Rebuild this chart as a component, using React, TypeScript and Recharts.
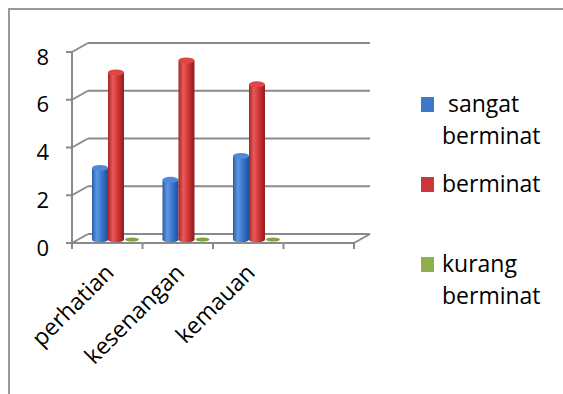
import React from "react";
import { Bar, BarChart, CartesianGrid, Legend, XAxis, YAxis } from "recharts";

// ─── Data ────────────────────────────────────────────────────

const categories = ["perhatian", "kesenangan", "kemauan", ""];
const sangatBerminat = [3, 2.5, 3.5, null];
const berminat = [7, 7.5, 6.5, null];
const kurangBerminat = [0, 0, 0, null];
const yTicks = [0, 2, 4, 6, 8];
const seriesNames = [" sangat berminat", "berminat", "kurang berminat"];

const data = categories.map((name, i) => ({
  name,
  sangat: sangatBerminat[i],
  berminat: berminat[i],
  kurang: kurangBerminat[i],
}));

// ─── Layout ──────────────────────────────────────────────────

const FONT = "'Open Sans', sans-serif";
const GRID = "#8a8a8a";
const CHART_W = 553;
const CHART_H = 384;
const PLOT_LEFT = 78;
const PLOT_TOP = 33;
const PLOT_RIGHT = 360;
const PLOT_BOTTOM = 224;
const DEPTH_X = 16; // front plane sits this far left of the back wall
const DEPTH_Y = 9; // ...and this far below it

// ─── Axis ticks (3D floor + wall edges) ──────────────────────

function YTick({ y, payload }: any) {
  const bx = PLOT_LEFT;
  const fx = bx - DEPTH_X;
  const fy = y + DEPTH_Y;
  return (
    <g>
      <line x1={fx - 6} y1={fy} x2={fx} y2={fy} stroke={GRID} strokeWidth={2} />
      <line x1={fx} y1={fy} x2={bx} y2={y} stroke={GRID} strokeWidth={2} />
      {payload.value === yTicks[yTicks.length - 1] && (
        <line x1={fx} y1={fy} x2={fx} y2={PLOT_BOTTOM + DEPTH_Y} stroke={GRID} strokeWidth={2} />
      )}
      <text
        x={fx - 23}
        y={fy + 5}
        dy="0.35em"
        textAnchor="end"
        fontFamily={FONT}
        fontSize={22}
        fill="#000"
      >
        {payload.value}
      </text>
    </g>
  );
}

function XTick({ x, payload, index }: any) {
  const band = (PLOT_RIGHT - PLOT_LEFT) / categories.length;
  const fx = x - DEPTH_X;
  const fy = PLOT_BOTTOM + DEPTH_Y;
  const last = index === categories.length - 1;
  return (
    <g>
      <line x1={fx - band / 2} y1={fy} x2={fx + band / 2} y2={fy} stroke={GRID} strokeWidth={2} />
      <line x1={fx - band / 2} y1={fy} x2={fx - band / 2} y2={fy + 6} stroke={GRID} strokeWidth={2} />
      {last && (
        <>
          <line x1={fx + band / 2} y1={fy} x2={fx + band / 2} y2={fy + 6} stroke={GRID} strokeWidth={2} />
          <line
            x1={fx + band / 2}
            y1={fy}
            x2={x + band / 2}
            y2={PLOT_BOTTOM}
            stroke={GRID}
            strokeWidth={2}
          />
        </>
      )}
      {payload.value && (
        <text
          x={fx + 8}
          y={fy + 31}
          textAnchor="end"
          transform={`rotate(-45 ${fx + 8} ${fy + 31})`}
          fontFamily={FONT}
          fontSize={23}
          fill="#000"
        >
          {payload.value}
        </text>
      )}
    </g>
  );
}

// ─── Cylinder bar ────────────────────────────────────────────

function Cylinder({ x, y, width, height, payload, dataKey, grad, cap, flat }: any) {
  if (payload == null || payload[dataKey] == null) return <g />;
  const bx = x - DEPTH_X / 2;
  const by = y + DEPTH_Y / 2 + 1;
  const cx = bx + width / 2;
  const rx = width / 2;
  const ry = 3;
  if (!height) {
    return <ellipse cx={cx} cy={by} rx={rx - 1} ry={2} fill={flat} />;
  }
  return (
    <g>
      <ellipse cx={cx} cy={by + height} rx={rx} ry={ry} fill={grad} />
      <rect x={bx} y={by} width={width} height={height} fill={grad} />
      <ellipse cx={cx} cy={by} rx={rx} ry={ry} fill={cap} />
    </g>
  );
}

// ─── Legend ──────────────────────────────────────────────────

const legendColors = ["#3c78c8", "#c9373a", "#8db04a"];

function LegendContent({ payload }: any) {
  return (
    <div style={{ fontFamily: FONT, fontSize: 23, lineHeight: "32px", color: "#000" }}>
      {(payload || []).map((item: any, i: number) => (
        <div key={i} style={{ display: "flex", alignItems: "flex-start", height: 80 }}>
          <span
            style={{
              width: 13,
              height: 15,
              marginTop: 10,
              background: legendColors[i],
              flex: "none",
            }}
          />
          <span style={{ marginLeft: 8, whiteSpace: "pre-wrap", width: 115 }}>{item.value}</span>
        </div>
      ))}
    </div>
  );
}

// ─── App ─────────────────────────────────────────────────────

export default function App() {
  return (
    <div
      style={{
        position: "absolute",
        left: 8,
        top: 8,
        width: 555,
        height: 386,
        boxSizing: "border-box",
        borderTop: "2px solid #9a9a9a",
        borderLeft: "2px solid #9a9a9a",
        background: "#fff",
      }}
    >
      <BarChart
        width={CHART_W}
        height={CHART_H}
        data={data}
        margin={{ top: PLOT_TOP, right: CHART_W - PLOT_RIGHT, left: 0, bottom: 0 }}
        barGap={0}
        barCategoryGap="17%"
      >
        <defs>
          <linearGradient id="gBlue" x1="0" y1="0" x2="1" y2="0">
            <stop offset="0%" stopColor="#2a5ca8" />
            <stop offset="30%" stopColor="#5f98e2" />
            <stop offset="60%" stopColor="#3a78d0" />
            <stop offset="100%" stopColor="#1f4f9a" />
          </linearGradient>
          <linearGradient id="gRed" x1="0" y1="0" x2="1" y2="0">
            <stop offset="0%" stopColor="#a82424" />
            <stop offset="30%" stopColor="#e85a5a" />
            <stop offset="60%" stopColor="#d33636" />
            <stop offset="100%" stopColor="#8e1c1c" />
          </linearGradient>
        </defs>
        <CartesianGrid vertical={false} stroke={GRID} strokeWidth={2} />
        <XAxis
          dataKey="name"
          height={CHART_H - PLOT_BOTTOM}
          axisLine={false}
          tickLine={false}
          tickSize={0}
          tickMargin={0}
          interval={0}
          tick={<XTick />}
        />
        <YAxis
          width={PLOT_LEFT}
          domain={[0, 8]}
          ticks={yTicks}
          axisLine={false}
          tickLine={false}
          tickSize={0}
          tickMargin={0}
          interval={0}
          tick={<YTick />}
        />
        <Legend
          layout="vertical"
          align="center"
          verticalAlign="middle"
          wrapperStyle={{ left: 411, top: 77, width: 142 }}
          content={<LegendContent />}
        />
        <Bar
          dataKey="sangat"
          name={seriesNames[0]}
          fill={legendColors[0]}
          isAnimationActive={false}
          shape={(p: any) => <Cylinder {...p} dataKey="sangat" grad="url(#gBlue)" cap="#5089d8" />}
        />
        <Bar
          dataKey="berminat"
          name={seriesNames[1]}
          fill={legendColors[1]}
          isAnimationActive={false}
          shape={(p: any) => <Cylinder {...p} dataKey="berminat" grad="url(#gRed)" cap="#dc4747" />}
        />
        <Bar
          dataKey="kurang"
          name={seriesNames[2]}
          fill={legendColors[2]}
          isAnimationActive={false}
          shape={(p: any) => <Cylinder {...p} dataKey="kurang" flat="#7ea63e" />}
        />
      </BarChart>
    </div>
  );
}
